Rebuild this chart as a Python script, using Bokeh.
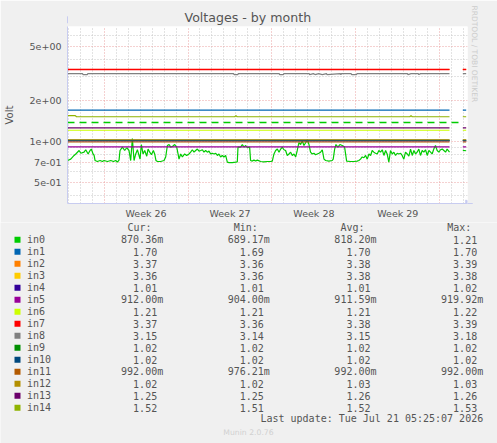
import math
from bokeh.plotting import figure
from bokeh.models import Range1d, FixedTicker, CustomJSTickFormatter, Title, Arrow, NormalHead
from bokeh.embed import file_html
from bokeh.resources import INLINE
from bokeh.core.properties import value

NaN = float("nan")

# ---------------- data ----------------
series_names = ["in0", "in1", "in2", "in3", "in4", "in5", "in6", "in7",
                "in8", "in9", "in10", "in11", "in12", "in13", "in14"]
series_colors = ["#00cc00", "#0066b3", "#ff8000", "#ffcc00", "#330099", "#990099",
                 "#ccff00", "#ff0000", "#808080", "#008f00", "#00487d", "#b35a00",
                 "#b38f00", "#6b006b", "#8fb300"]
cur_vals = [0.87036, 1.70, 3.37, 3.36, 1.01, 0.912, 1.21, 3.37, 3.15, 1.02, 1.02, 0.992, 1.02, 1.25, 1.52]
min_vals = [0.68917, 1.69, 3.36, 3.36, 1.01, 0.904, 1.21, 3.36, 3.14, 1.02, 1.02, 0.97621, 1.02, 1.25, 1.51]
avg_vals = [0.81820, 1.70, 3.38, 3.38, 1.01, 0.91159, 1.21, 3.38, 3.15, 1.02, 1.02, 0.992, 1.03, 1.26, 1.52]
max_vals = [1.21, 1.70, 3.39, 3.38, 1.02, 0.91992, 1.22, 3.39, 3.18, 1.02, 1.02, 0.992, 1.03, 1.26, 1.53]

week_labels = ["Week 26", "Week 27", "Week 28", "Week 29"]
last_update = "Last update: Tue Jul 21 05:25:07 2026"

# days since the start of Week 26
in0_days = [
    -3.05, -2.78, -2.50, -2.36, -2.08, -1.94, -1.67, -1.53, -1.33, -1.17,
    -1.06, -0.92, -0.83, -0.75, -0.56, -0.33, -0.14, 0.00, 0.28, 0.56,
    0.78, 0.97, 1.11, 1.25, 1.33, 1.53, 1.72, 1.89, 2.08, 2.22,
    2.36, 2.50, 2.64, 2.78, 3.00, 3.11, 3.25, 3.39, 3.56, 3.67,
    3.81, 3.95, 4.11, 4.22, 4.33, 4.45, 4.72, 5.00, 5.14, 5.28,
    5.42, 5.56, 5.70, 5.89, 6.06, 6.17, 6.25, 6.39, 6.53, 6.72,
    6.89, 7.08, 7.22, 7.36, 7.50, 7.64, 7.78, 7.92, 8.06, 8.20,
    8.33, 8.47, 8.61, 8.75, 8.89, 9.03, 9.17, 9.31, 9.45, 9.58,
    9.72, 9.86, 10.00, 10.14, 10.28, 10.42, 10.70, 10.97, 11.11, 11.17,
    11.39, 11.53, 11.67, 11.81, 11.95, 12.14, 12.22, 12.36, 12.50, 12.64,
    12.78,
    13.06, 13.34, 13.61, 13.89, 14.03, 14.17, 14.31, 14.45, 14.59, 14.73,
    14.86, 15.00, 15.14, 15.28, 15.42, 15.56, 15.70, 15.84, 15.98, 16.11,
    16.25, 16.39, 16.53, 16.67, 16.81, 16.95, 17.09, 17.22, 17.36, 17.50,
    17.64, 17.78, 17.92, 18.06, 18.20, 18.34, 18.48, 18.75, 19.03, 19.11,
    19.23, 19.34, 19.50, 19.67, 19.86, 20.06, 20.23, 20.56, 20.84, 21.11,
    21.25, 21.39, 21.53, 21.67, 21.81, 21.95, 22.09, 22.23, 22.36, 22.50,
    22.64, 22.78, 22.92, 23.06, 23.20, 23.34, 23.48, 23.61, 23.75, 23.89,
    24.03, 24.17, 24.31, 24.45, 24.59, 24.73, 24.86, 25.00, 25.14, 25.28,
    25.42, 25.56, 25.70, 25.84, 25.98, 26.11, 26.25, 26.39, 26.53, 26.67,
    26.81, 26.95, 27.09, 27.23, 27.36, 27.50, 27.64, 27.78, 27.92, 28.06,
    28.20, 28.34, 28.48, 28.61, 28.81,
    NaN, 29.92, 30.20,
]
in0_volts = [
    0.725, 0.742, 0.790, 0.810, 0.859, 0.820, 0.835, 0.870, 0.810, 0.859,
    0.880, 0.810, 0.790, 0.725, 0.713, 0.725, 0.713, 0.725, 0.713, 0.725,
    0.713, 0.725, 0.705, 0.730, 0.859, 0.910, 0.859, 0.900, 0.859, 0.725,
    1.050, 0.725, 0.810, 0.870, 0.742, 0.950, 0.810, 0.859, 0.780, 0.880,
    0.835, 0.800, 0.859, 0.810, 0.725, 0.713, 0.713, 0.725, 0.770, 0.935,
    0.950, 0.910, 0.920, 0.950, 0.910, 0.810, 0.742, 0.810, 0.770, 0.810,
    0.790, 0.810, 0.835, 0.870, 0.835, 0.859, 0.880, 0.850, 0.859, 0.870,
    0.835, 0.859, 0.835, 0.850, 0.810, 0.820, 0.810, 0.820, 0.790, 0.810,
    0.770, 0.790, 0.770, 0.790, 0.705, 0.700, 0.700, 0.705, 0.708, 0.910,
    0.910, 0.950, 0.910, 0.935, 0.900, 0.910, 0.725, 0.718, 0.730, 0.718,
    0.730,
    0.713, 0.708, 0.713, 0.713, 0.718, 0.810, 0.859, 0.880, 0.835, 0.880,
    0.910, 0.870, 0.859, 0.790, 0.810, 0.835, 0.790, 0.810, 0.770, 0.859,
    0.980, 0.950, 1.010, 0.935, 0.980, 1.030, 0.950, 0.835, 0.810, 0.820,
    0.800, 0.810, 0.820, 0.835, 0.870, 0.742, 0.725, 0.718, 0.725, 0.742,
    0.880, 0.950, 0.910, 0.950, 0.935, 0.910, 0.718, 0.713, 0.713, 0.718,
    0.725, 0.742, 0.770, 0.760, 0.790, 0.742, 0.810, 0.790, 0.859, 0.835,
    0.820, 0.810, 0.859, 0.835, 0.870, 0.790, 0.859, 0.810, 0.705, 0.859,
    0.810, 0.835, 0.790, 0.820, 0.810, 0.820, 0.790, 0.742, 0.835, 0.810,
    0.780, 0.880, 0.790, 0.859, 0.810, 0.835, 0.880, 0.790, 0.859, 0.835,
    0.870, 0.790, 0.859, 0.835, 0.810, 0.880, 0.935, 0.859, 0.835, 0.870,
    0.880, 0.859, 0.835, 0.880, 0.835,
    NaN, 0.860, 0.855,
]

flat_days = [-3.05, 28.81, NaN, 29.92, 30.20]
in1_volts = [1.70, 1.70, NaN, 1.70, 1.70]
in2_volts = [3.38, 3.38, NaN, 3.38, 3.38]
in3_volts = [3.38, 3.38, NaN, 3.38, 3.38]
in4_volts = [1.01, 1.01, NaN, 1.01, 1.01]
in5_volts = [0.912, 0.912, NaN, 0.912, 0.912]
in6_volts = [1.21, 1.21, NaN, 1.21, 1.21]
in7_volts = [3.38, 3.38, NaN, 3.38, 3.38]
in9_volts = [1.02, 1.02, NaN, 1.02, 1.02]
in10_volts = [1.02, 1.02, NaN, 1.02, 1.02]
in11_volts = [0.992, 0.992, NaN, 0.992, 0.992]
in12_volts = [1.03, 1.03, NaN, 1.03, 1.03]
in13_volts = [1.26, 1.26, NaN, 1.26, 1.26]

in8_days = [-3.05, -1.80, -1.75, -1.40, -1.35, 10.80, 10.85, 11.15, 11.20,
            14.60, 14.65, 14.95, 15.00, 17.10, 17.15, 17.45, 17.60, 17.90,
            18.20, 18.55, 18.60, 19.70, 19.75, 19.80, 20.60, 20.65, 21.05,
            21.10, 25.30, 25.35, 25.60, 26.20, 26.25, 26.40, 28.81,
            NaN, 29.92, 30.20]
in8_volts = [3.15, 3.15, 3.10, 3.10, 3.15, 3.15, 3.10, 3.10, 3.15,
             3.15, 3.10, 3.10, 3.15, 3.15, 3.10, 3.15, 3.10, 3.15,
             3.10, 3.15, 3.10, 3.15, 3.10, 3.15, 3.15, 3.10, 3.10,
             3.15, 3.15, 3.10, 3.15, 3.15, 3.10, 3.15, 3.15,
             NaN, 3.15, 3.15]

in14_days = [-3.05, -2.40, -2.30, 10.90, 11.00, 11.10, 25.50, 25.60, 25.70,
             28.81, NaN, 29.92, 30.20]
in14_volts = [1.55, 1.55, 1.52, 1.52, 1.55, 1.52, 1.52, 1.55, 1.52,
              1.52, NaN, 1.52, 1.52]

in0_ref_days = [-3.05, 29.95]
in0_ref_volts = [1.38, 1.38]

y_major = [0.5, 0.7, 1.0, 2.0, 5.0]
y_minor = [0.4, 0.6, 0.8, 0.9, 3.0, 4.0, 6.0]

# ---------------- chart ----------------
TXT = "#555555"
AXC = "#c8ccf0"
X0, X1 = -3.05, 30.31
Y0, Y1 = 0.3506, 6.99

p = figure(width=497, height=222, x_range=Range1d(X0, X1), y_range=Range1d(Y0, Y1),
           y_axis_type="log", output_backend="svg", toolbar_location=None,
           min_border_left=67, min_border_right=30, min_border_top=26, min_border_bottom=19,
           background_fill_color="white", border_fill_color="#f0f0f0",
           outline_line_color=None)

p.title.text = "Voltages - by month"
p.title.align = "left"
p.title.offset = 117
p.title.standoff = 3
p.title.text_font = "DejaVu Sans"
p.title.text_font_size = "12.6px"
p.title.text_font_style = "normal"
p.title.text_color = TXT

side = Title(text="RRDTOOL / TOBI OETIKER", align="left", offset=-21, standoff=4,
             text_font="DejaVu Sans", text_font_size="7.5px", text_font_style="normal",
             text_color="#cccccc")
p.add_layout(side, "right")

week_ticks = [7 * i + 3.5 for i in range(len(week_labels))]
p.xaxis.ticker = FixedTicker(ticks=week_ticks)
p.xaxis.formatter = CustomJSTickFormatter(
    args=dict(week_names=week_labels, week_pos=week_ticks),
    code="const i = week_pos.indexOf(tick); return i >= 0 ? week_names[i] : '';")
p.yaxis.ticker = FixedTicker(ticks=y_major)
p.yaxis.formatter = CustomJSTickFormatter(
    code="return tick.toExponential(0).replace(/e([+-])(\\d)$/, 'e$10$2');")

for ax in (p.xaxis, p.yaxis):
    ax.major_label_text_font = "DejaVu Sans"
    ax.major_label_text_font_size = "9.5px"
    ax.major_label_text_color = TXT
    ax.major_tick_line_color = None
    ax.minor_tick_line_color = None
    ax.major_tick_out = 0
    ax.major_tick_in = 0
    ax.minor_tick_out = 0
    ax.minor_tick_in = 0
    ax.axis_line_color = AXC
p.xaxis.major_label_standoff = 4
p.yaxis.major_label_standoff = 6
p.yaxis.axis_label = "Volt"
p.yaxis.axis_label_text_font = "DejaVu Sans"
p.yaxis.axis_label_text_font_size = "10px"
p.yaxis.axis_label_text_font_style = "normal"
p.yaxis.axis_label_text_color = TXT
p.yaxis.axis_label_standoff = 12

week_starts = [7 * i for i in range(5)]
day_ticks = [d for d in range(-3, 31) if d % 7 != 0]
p.xgrid.ticker = FixedTicker(ticks=week_starts, minor_ticks=day_ticks)
p.ygrid.ticker = FixedTicker(ticks=y_major, minor_ticks=y_minor)
for g in (p.xgrid, p.ygrid):
    g.grid_line_color = "#eaa2a2"
    g.grid_line_dash = "1 2"
    g.grid_line_width = 1
    g.minor_grid_line_color = "#c6c6c6"
    g.minor_grid_line_dash = "1 2"
    g.minor_grid_line_width = 1

LW = 1.2
C = dict(zip(series_names, series_colors))
p.line(in0_days, in0_volts, line_color=C["in0"], line_width=LW)
p.line(flat_days, in1_volts, line_color=C["in1"], line_width=LW)
p.line(flat_days, in2_volts, line_color=C["in2"], line_width=0.8)
p.line(flat_days, in3_volts, line_color=C["in3"], line_width=0.8)
p.line(flat_days, in4_volts, line_color=C["in4"], line_width=LW)
p.line(flat_days, in5_volts, line_color=C["in5"], line_width=LW)
p.line(flat_days, in6_volts, line_color=C["in6"], line_width=LW)
p.line(flat_days, in7_volts, line_color=C["in7"], line_width=1.4)
p.line(in8_days, in8_volts, line_color=C["in8"], line_width=LW)
p.line(flat_days, in9_volts, line_color=C["in9"], line_width=LW)
p.line(flat_days, in10_volts, line_color=C["in10"], line_width=LW)
p.line(flat_days, in11_volts, line_color=C["in11"], line_width=LW)
p.line(flat_days, in12_volts, line_color=C["in12"], line_width=LW)
p.line(flat_days, in13_volts, line_color=C["in13"], line_width=LW)
p.line(in14_days, in14_volts, line_color=C["in14"], line_width=LW)
p.line(in0_ref_days, in0_ref_volts, line_color=C["in0"], line_width=1.6, line_dash="7 5")

p.add_layout(Arrow(end=NormalHead(size=7, fill_color=AXC, line_color=AXC),
                   x_start=X0, y_start=Y1, x_end=X0, y_end=8.3,
                   line_color=AXC, line_width=1))
p.add_layout(Arrow(end=NormalHead(size=7, fill_color=AXC, line_color=AXC),
                   x_start=X1, y_start=Y0, x_end=30.75, y_end=Y0,
                   line_color=AXC, line_width=1))

# ---------------- legend table ----------------
lg = figure(width=497, height=221, x_range=Range1d(0, 497), y_range=Range1d(443, 222),
            output_backend="svg", toolbar_location=None, min_border=0,
            x_axis_location=None, y_axis_location=None,
            background_fill_color="#f0f0f0", border_fill_color="#f0f0f0",
            outline_line_color=None)
lg.xgrid.visible = False
lg.ygrid.visible = False

MONO = value("DejaVu Sans Mono")
CW = 6.02
ROW0, ROWH = 239.3, 12.0


def fmt(v):
    if v < 1:
        return "%.2fm" % (v * 1000), True
    return "%.2f" % v, False


rows_y = [ROW0 + ROWH * i for i in range(len(series_names))]
lg.rect(x=[17] * len(series_names), y=rows_y, width=6, height=6,
        fill_color=series_colors, line_color=None)
lg.text(x=[26.5] * len(series_names), y=rows_y, text=series_names, text_font=MONO,
        text_font_size="10px", text_color=TXT, text_baseline="middle", text_align="left")

col_right = [162.7, 269.3, 376.0, 482.7]
for cx, vals in zip(col_right, (cur_vals, min_vals, avg_vals, max_vals)):
    xs, ts = [], []
    for v in vals:
        s, suf = fmt(v)
        ts.append(s)
        xs.append(cx if suf else cx - CW)
    lg.text(x=xs, y=rows_y, text=ts, text_font=MONO, text_font_size="10px",
            text_color=TXT, text_baseline="middle", text_align="right")

headers = ["Cur:", "Min:", "Avg:", "Max:"]
lg.text(x=[127, 233.3, 340, 446.7], y=[227.3] * 4, text=headers, text_font=MONO,
        text_font_size="10px", text_color=TXT, text_baseline="middle", text_align="left")
lg.text(x=[482.7], y=[418.3], text=[last_update], text_font=MONO, text_font_size="10px",
        text_color=TXT, text_baseline="middle", text_align="right")
lg.text(x=[248], y=[432.3], text=["Munin 2.0.76"], text_font=value("DejaVu Sans"),
        text_font_size="7.7px", text_color="#d0d0d0", text_baseline="middle",
        text_align="center")

open("out.html", "w").write(file_html([p, lg], INLINE))
